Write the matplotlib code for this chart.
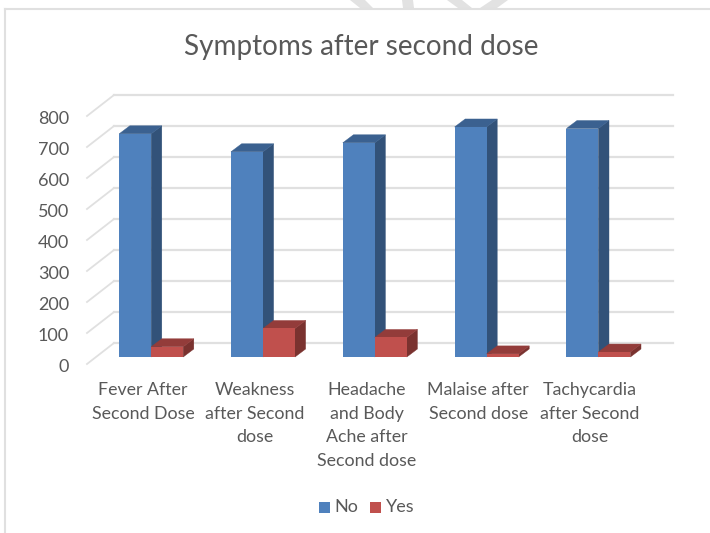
import matplotlib
matplotlib.use("Agg")
import matplotlib.pyplot as plt
from matplotlib.patches import Polygon, Rectangle
from matplotlib.transforms import ScaledTranslation

categories = ["Fever After\nSecond Dose", "Weakness\nafter Second\ndose", "Headache\nand Body\nAche after\nSecond dose",
              "Malaise after\nSecond dose", "Tachycardia\nafter Second\ndose"]
no_values = [720, 662, 691, 742, 737]
yes_values = [33, 92, 63, 10, 16]
y_ticks = [0, 100, 200, 300, 400, 500, 600, 700, 800]

plt.rcParams["font.family"] = ["Lato", "DejaVu Sans"]
text_col = "#595959"
grid_col = "#e0e0e0"

W, H = 710, 533
fig = plt.figure(figsize=(W / 100, H / 100), dpi=100)

# front plane of the 3d box, pixels
ax = fig.add_axes([87 / W, 1 - 364 / H, 559 / W, 248 / H])
ax.set_xlim(-0.5, 4.5)
ax.set_ylim(0, 800)
for s in ax.spines.values():
    s.set_visible(False)
ax.patch.set_visible(False)

# pixel to data sizes
px_x = 5 / 559
px_y = 800 / 248

# back wall grid
wall_dx, wall_dy = 27 * px_x, 21 * px_y
for v in y_ticks:
    ax.plot([-0.5, -0.5 + wall_dx], [v, v + wall_dy], color=grid_col, lw=1.3, clip_on=False, zorder=1)
    ax.plot([-0.5 + wall_dx, 4.5 + wall_dx], [v + wall_dy, v + wall_dy], color=grid_col, lw=1.6, clip_on=False, zorder=1)

# bars sit a little behind the front plane
bar_shift = ax.transData + ScaledTranslation(8.3 / 100, 7 / 100, fig.dpi_scale_trans)
bar_w = 32 * px_x
dep_x, dep_y = 10.6 * px_x, 8 * px_y


def draw_bars(xs, vals, front, top, side, z):
    for x, v in zip(xs, vals):
        ax.add_patch(Polygon([(x + bar_w, 0), (x + bar_w + dep_x, dep_y), (x + bar_w + dep_x, v + dep_y), (x + bar_w, v)],
                             fc=side, ec=side, lw=0.3, transform=bar_shift, clip_on=False, zorder=z))
        ax.add_patch(Polygon([(x, v), (x + dep_x, v + dep_y), (x + bar_w + dep_x, v + dep_y), (x + bar_w, v)],
                             fc=top, ec=top, lw=0.3, transform=bar_shift, clip_on=False, zorder=z))
    ax.bar(xs, vals, width=bar_w, align="edge", color=front, transform=bar_shift, clip_on=False, zorder=z + 0.1)


pos = list(range(len(categories)))
draw_bars([p - bar_w for p in pos], no_values, "#4f81bd", "#3b6190", "#325279", 3)
draw_bars(pos, yes_values, "#c0504d", "#933c3a", "#7a322f", 4)

ax.set_yticks(y_ticks)
ax.set_xticks(pos)
ax.set_xticklabels(categories, linespacing=1.58)
ax.tick_params(axis="y", length=0, pad=13, labelsize=13, labelcolor=text_col)
ax.tick_params(axis="x", length=0, pad=13, labelsize=12.8, labelcolor=text_col)
label_drop = ScaledTranslation(0, -1.5 / 100, fig.dpi_scale_trans)
for lab in ax.get_yticklabels():
    lab.set_transform(lab.get_transform() + label_drop)

fig.text(361.5 / W, 1 - 46.5 / H, "Symptoms after second dose", fontsize=20.1, color=text_col, ha="center", va="center")

# legend placed by hand like the office one
for px, col, lab in [(319, "#4f81bd", "No"), (370, "#c0504d", "Yes")]:
    fig.add_artist(Rectangle((px / W, 1 - 513 / H), 11 / W, 11 / H, fc=col, ec="none", transform=fig.transFigure))
    fig.text((px + 15.5) / W, 1 - 507.5 / H, lab, fontsize=13, color=text_col, va="center")

# chart frame, only top and left are inside the crop
fig.add_artist(plt.Line2D([5 / W, 5 / W], [0, 1 - 9 / H], color=grid_col, lw=1.5))
fig.add_artist(plt.Line2D([5 / W, 1], [1 - 9 / H, 1 - 9 / H], color=grid_col, lw=1.5))

# bits of the page watermark above the frame
for shape in [[(350, 0), (365, 0), (373, 8), (360, 8)], [(402, 0), (413, 0), (414, 8), (403, 8)],
              [(447, 0), (462, 0), (472, 8), (458, 8)], [(492, 0), (508, 0), (497, 8), (480, 8)]]:
    fig.add_artist(Polygon([(x / W, 1 - y / H) for x, y in shape], fc="#e2e2e2", ec="none", transform=fig.transFigure))

fig.savefig("out.png", dpi=100)
